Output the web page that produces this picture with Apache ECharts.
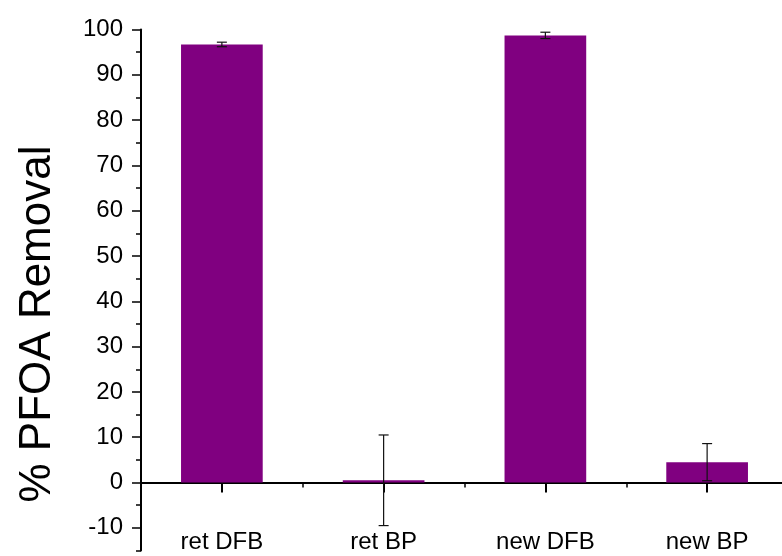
<!DOCTYPE html>
<html>
<head>
<meta charset="utf-8">
<script src="https://cdn.jsdelivr.net/npm/echarts@6/dist/echarts.min.js"></script>
<style>
  html, body { margin: 0; padding: 0; background: #fff; }
  #chart { width: 782px; height: 556px; }
</style>
</head>
<body>
<div id="chart"></div>
<script>
// Sample groups and mean removal (%) with standard deviation
const categories = ['ret DFB', 'ret BP', 'new DFB', 'new BP'];
const removalMean = [96.7, 0.5, 98.7, 4.5];
const removalSd = [0.5, 10.0, 0.7, 4.1];

// Y axis tick positions
const yMajorTicks = [-10, 0, 10, 20, 30, 40, 50, 60, 70, 80, 90, 100];
const yMinorTicks = [-15, -5, 5, 15, 25, 35, 45, 55, 65, 75, 85, 95];

const FONT = '"Liberation Sans", Arial, sans-serif';

const chart = echarts.init(document.getElementById('chart'), null, { renderer: 'canvas' });

const errorData = categories.map((c, i) => [i, removalMean[i] - removalSd[i], removalMean[i] + removalSd[i]]);

chart.setOption({
  backgroundColor: '#ffffff',
  animation: false,
  grid: { left: 141, right: -6, top: 29.5, bottom: 5.5, containLabel: false, outerBoundsMode: 'none' },
  xAxis: [
    {
      type: 'category',
      data: categories,
      position: 'bottom',
      axisLine: { show: true, onZero: true, lineStyle: { color: '#000', width: 2 } },
      axisTick: { show: true, alignWithLabel: true, length: 10, lineStyle: { color: '#000', width: 2 } },
      axisLabel: { margin: -20, fontSize: 24, color: '#000', fontFamily: FONT },
      splitLine: { show: false }
    },
    {
      type: 'category',
      data: categories,
      position: 'bottom',
      axisLine: { show: false, onZero: true },
      axisTick: { show: true, alignWithLabel: false, length: 5, lineStyle: { color: '#000', width: 1.5 } },
      axisLabel: { show: false },
      splitLine: { show: false }
    }
  ],
  yAxis: [
    {
      type: 'value',
      min: -15,
      max: 100,
      position: 'left',
      axisLine: { show: true, lineStyle: { color: '#000', width: 2 } },
      axisTick: { show: true, customValues: yMajorTicks, length: 9, lineStyle: { color: '#000', width: 1.5 } },
      axisLabel: { customValues: yMajorTicks, margin: 18, fontSize: 24, color: '#000', fontFamily: FONT },
      splitLine: { show: false }
    },
    {
      type: 'value',
      min: -15,
      max: 100,
      position: 'left',
      axisLine: { show: false },
      axisTick: { show: true, customValues: yMinorTicks, length: 5, lineStyle: { color: '#000', width: 1.5 } },
      axisLabel: { show: false },
      splitLine: { show: false }
    }
  ],
  graphic: [
    {
      type: 'text',
      x: 38,
      y: 324,
      rotation: Math.PI / 2,
      style: {
        text: '% PFOA Removal',
        fontSize: 44,
        fontFamily: FONT,
        fill: '#000',
        textAlign: 'center',
        textVerticalAlign: 'middle'
      }
    }
  ],
  series: [
    {
      name: 'Removal',
      type: 'bar',
      xAxisIndex: 0,
      yAxisIndex: 0,
      data: removalMean,
      barWidth: '50.5%',
      itemStyle: { color: '#800080' },
      z: 2
    },
    {
      name: 'SD',
      type: 'custom',
      xAxisIndex: 0,
      yAxisIndex: 0,
      data: errorData,
      z: 3,
      renderItem: function (params, api) {
        const x = api.value(0);
        const lo = api.coord([x, api.value(1)]);
        const hi = api.coord([x, api.value(2)]);
        const half = 5;
        const style = { stroke: '#111', lineWidth: 1.2 };
        return {
          type: 'group',
          children: [
            { type: 'line', shape: { x1: hi[0], y1: hi[1], x2: lo[0], y2: lo[1] }, style: style },
            { type: 'line', shape: { x1: hi[0] - half, y1: hi[1], x2: hi[0] + half, y2: hi[1] }, style: style },
            { type: 'line', shape: { x1: lo[0] - half, y1: lo[1], x2: lo[0] + half, y2: lo[1] }, style: style }
          ]
        };
      }
    }
  ]
});
</script>
</body>
</html>
